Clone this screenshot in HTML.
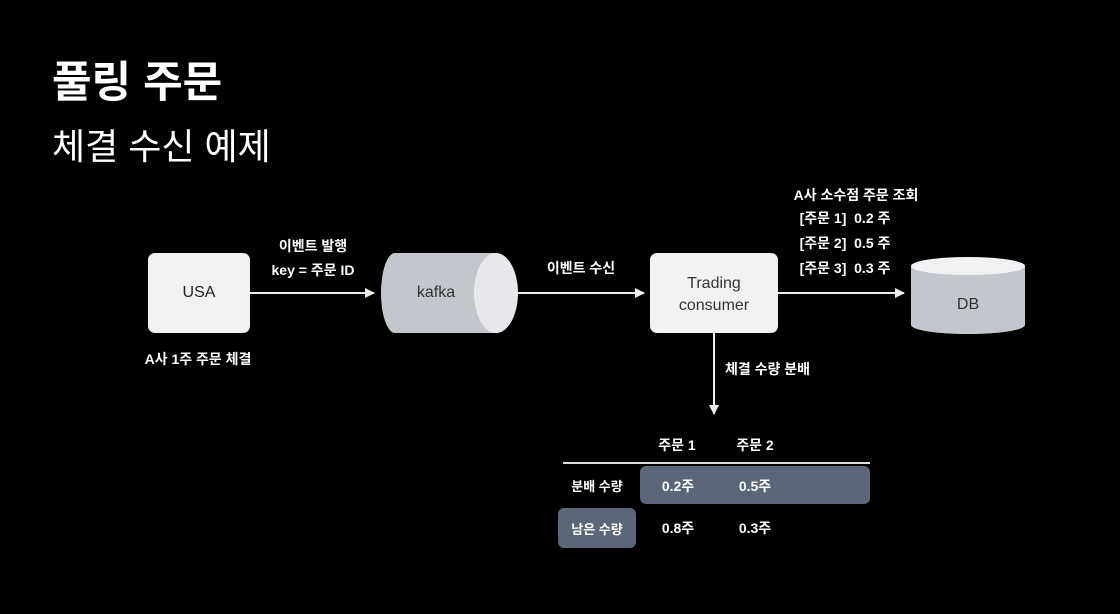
<!DOCTYPE html>
<html><head><meta charset="utf-8"><style>
html,body{margin:0;padding:0;background:#000;}
body{width:1120px;height:614px;position:relative;overflow:hidden;font-family:"Liberation Sans","Noto Sans CJK KR",sans-serif;color:#fff;}
.t{position:absolute;white-space:nowrap;}
.c{transform:translateX(-50%);}
.b{font-weight:bold;}
</style></head><body>
<div class="t b" style="left:52px;top:48px;font-size:43px;">풀링 주문</div>
<div class="t" style="left:52px;top:118px;font-size:36px;">체결 수신 예제</div>
<svg width="1120" height="614" style="position:absolute;left:0;top:0">
<defs><marker id="a" markerWidth="10" markerHeight="10" refX="9" refY="5" orient="auto" markerUnits="userSpaceOnUse"><path d="M0,0 L10,5 L0,10 z" fill="#eee"/></marker></defs>
<rect x="148" y="253" width="102" height="80" rx="7" fill="#f2f2f2"/>
<path d="M395,253 H496 V333 H395 A14,40 0 0 1 395,253 Z" fill="#c3c7cd"/>
<ellipse cx="496" cy="293" rx="22" ry="40" fill="#e6e8eb"/>
<rect x="650" y="253" width="128" height="80" rx="7" fill="#f2f2f2"/>
<path d="M911,266 V325 A57,9 0 0 0 1025,325 V266 Z" fill="#c3c7cd"/>
<ellipse cx="968" cy="266" rx="57" ry="9" fill="#f0f1f3"/>
<g stroke="#eee" stroke-width="2" marker-end="url(#a)">
<line x1="250" y1="293" x2="374" y2="293"/>
<line x1="518" y1="293" x2="644" y2="293"/>
<line x1="778" y1="293" x2="904" y2="293"/>
<line x1="714" y1="333" x2="714" y2="414"/>
</g>
<line x1="563" y1="463" x2="870" y2="463" stroke="#ddd" stroke-width="2"/>
<rect x="640" y="466" width="230" height="38" rx="6" fill="#5b6678"/>
<rect x="558" y="508" width="78" height="40" rx="6" fill="#5b6678"/>
</svg>
<div class="t c" style="left:199px;top:284px;font-size:16px;color:#222;">USA</div>
<div class="t c" style="left:436px;top:284px;font-size:16px;color:#333;">kafka</div>
<div class="t c" style="left:714px;top:273px;font-size:16px;color:#333;text-align:center;line-height:22px;">Trading<br>consumer</div>
<div class="t c" style="left:968px;top:296px;font-size:16px;color:#333;">DB</div>
<div class="t c b" style="left:313px;top:236px;font-size:14px;">이벤트 발행</div>
<div class="t c b" style="left:313px;top:260px;font-size:14px;">key = 주문 ID</div>
<div class="t c b" style="left:581px;top:258px;font-size:14px;">이벤트 수신</div>
<div class="t c b" style="left:856px;top:185px;font-size:14px;">A사 소수점 주문 조회</div>
<div class="t c b" style="left:845px;top:208px;font-size:14px;">[주문 1]&nbsp; 0.2 주</div>
<div class="t c b" style="left:845px;top:233px;font-size:14px;">[주문 2]&nbsp; 0.5 주</div>
<div class="t c b" style="left:845px;top:258px;font-size:14px;">[주문 3]&nbsp; 0.3 주</div>
<div class="t c b" style="left:198px;top:349px;font-size:14px;">A사 1주 주문 체결</div>
<div class="t b" style="left:725px;top:359px;font-size:14px;">체결 수량 분배</div>
<div class="t c b" style="left:677px;top:435px;font-size:14px;">주문 1</div>
<div class="t c b" style="left:755px;top:435px;font-size:14px;">주문 2</div>
<div class="t c b" style="left:597px;top:476px;font-size:13px;">분배 수량</div>
<div class="t c b" style="left:678px;top:476px;font-size:14px;">0.2주</div>
<div class="t c b" style="left:755px;top:476px;font-size:14px;">0.5주</div>
<div class="t c b" style="left:597px;top:519px;font-size:13px;">남은 수량</div>
<div class="t c b" style="left:678px;top:518px;font-size:14px;">0.8주</div>
<div class="t c b" style="left:755px;top:518px;font-size:14px;">0.3주</div>
</body></html>
